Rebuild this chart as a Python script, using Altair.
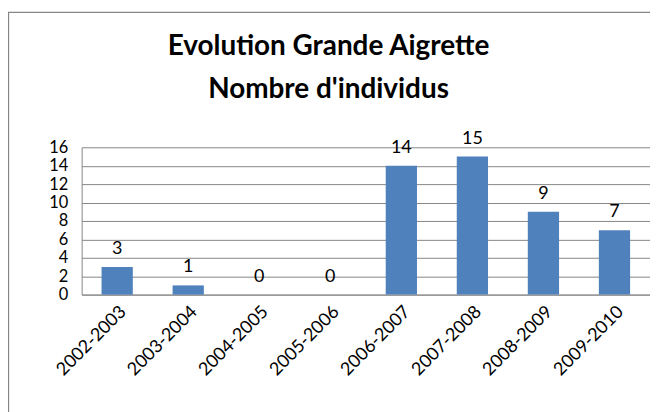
import altair as alt
import pandas as pd

seasons = ["2002-2003", "2003-2004", "2004-2005", "2005-2006",
           "2006-2007", "2007-2008", "2008-2009", "2009-2010"]
counts = [3, 1, 0, 0, 14, 15, 9, 7]
y_ticks = [0, 2, 4, 6, 8, 10, 12, 14, 16]
title_lines = ["Evolution Grande Aigrette", "Nombre d'individus"]

df = pd.DataFrame({"season": seasons, "count": counts})

FONT = "Lato"
FS = 18

x_axis = alt.Axis(labelAngle=-45, labelFontSize=FS, labelColor="#000000",
                  labelFont=FONT, ticks=False, domain=True, labelOverlap=False,
                  domainColor="#868686", labelPadding=8, grid=False)
x_scale = alt.Scale(paddingInner=0.56, paddingOuter=0.28)
y_axis = alt.Axis(values=y_ticks, labelFontSize=16.5, labelColor="#000000",
                  labelFont=FONT, ticks=False, domain=True, domainColor="#868686",
                  labelOverlap=False, gridColor="#868686", gridOpacity=1,
                  labelPadding=14)
y_scale = alt.Scale(domain=[0, 16], nice=False)

border = alt.Chart(pd.DataFrame({"a": [0]})).mark_rect(
    fill=None, stroke="#868686", strokeWidth=1.3
).encode(x=alt.value(-73.5), x2=alt.value(700), y=alt.value(-135.5), y2=alt.value(400))

title1 = alt.Chart(pd.DataFrame({"t": [title_lines[0]]})).mark_text(
    font=FONT, fontSize=28, fontWeight="bold", color="#000000", baseline="middle"
).encode(x=alt.value(248), y=alt.value(-101), text="t:N")

title2 = alt.Chart(pd.DataFrame({"t": [title_lines[1]]})).mark_text(
    font=FONT, fontSize=28, fontWeight="bold", color="#000000", baseline="middle"
).encode(x=alt.value(248), y=alt.value(-58), text="t:N")

bars = alt.Chart(df).mark_bar(color="#4F81BD").encode(
    x=alt.X("season:N", sort=seasons, title=None, scale=x_scale, axis=x_axis),
    y=alt.Y("count:Q", title=None, scale=y_scale, axis=y_axis),
)

labels = alt.Chart(df).mark_text(
    baseline="bottom", dy=-9, fontSize=FS, font=FONT, color="#000000"
).encode(
    x=alt.X("season:N", sort=seasons, title=None, scale=x_scale, axis=x_axis),
    y=alt.Y("count:Q", title=None, scale=y_scale, axis=y_axis),
    text=alt.Text("count:Q")
)

chart = alt.layer(border, title1, title2, bars, labels).properties(
    width=571, height=148,
    autosize=alt.AutoSizeParams(type="none"),
    padding={"left": 74, "top": 139, "right": 0, "bottom": 117},
).configure_view(stroke=None)

chart.save("out.html", embed_options={"renderer": "svg", "actions": False})
